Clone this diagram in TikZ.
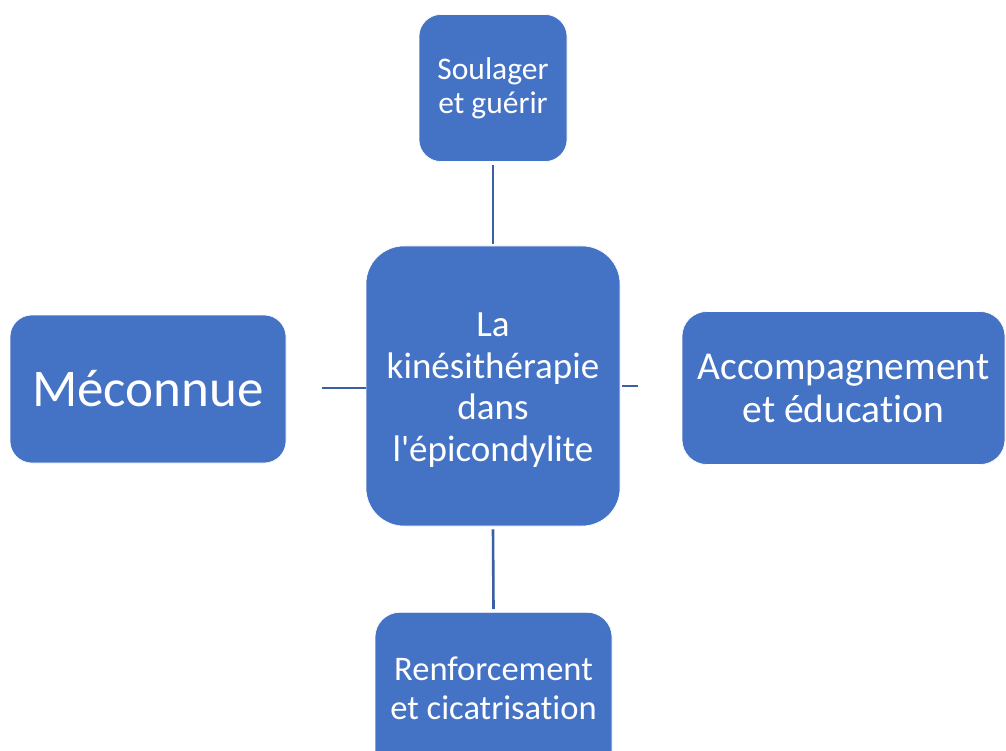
\documentclass[tikz,border=0pt]{standalone}
\usepackage{fontspec}
\newfontfamily\calfont[Ligatures=NoCommon]{Carlito}
\definecolor{boxblue}{HTML}{4472C4}
\definecolor{lineblue}{HTML}{3A5FA3}
\begin{document}
\begin{tikzpicture}[x=1pt,y=-1pt,
  box/.style={fill=boxblue, draw=white, line width=0.6pt, text=white, align=center, inner sep=0pt},
  conn/.style={draw=lineblue, line width=2.6pt}]
\useasboundingbox (0,0) rectangle (1006,751);
\clip (0,0) rectangle (1006,751);
\node[box, minimum width=148pt, minimum height=147pt, rounded corners=22pt, font=\calfont\fontsize{31.5}{34}\selectfont] (top) at (493,88) {Soulager\\et guérir};
\node[box, minimum width=254pt, minimum height=280pt, rounded corners=38pt] (mid) at (493,386) {};
\node[text=white, align=center, inner sep=0pt, font=\calfont\fontsize{37}{41.5}\selectfont] (midtxt) at (493,390) {La\\kinésithérapie\\dans\\l'épicondylite};
\node[box, minimum width=276pt, minimum height=148pt, rounded corners=22pt, font=\calfont\fontsize{53}{60}\selectfont] (left) at (148,389) {Méconnue};
\node[box, minimum width=323pt, minimum height=153pt, rounded corners=25pt, font=\calfont\fontsize{39.5}{43}\selectfont] (right) at (843.5,388) {Accompagnement\\et éducation};
\node[box, minimum width=237pt, minimum height=176pt, rounded corners=25pt, anchor=north] (bot) at (493.5,612) {};
\node[text=white, align=center, font=\calfont\fontsize{34.5}{39}\selectfont, inner sep=0pt] (bottxt) at (493.5,688) {Renforcement\\et cicatrisation};
\draw[conn] ([yshift=-3pt]top.south) -- ([yshift=2pt]mid.north);
\draw[conn] ([yshift=-3pt]mid.south) -- ([yshift=3pt]bot.north);
\draw[conn] ([xshift=-44pt,yshift=-2pt]mid.west) -- ([yshift=-2pt]mid.west);
\draw[conn] ([xshift=2pt]mid.east) -- ([xshift=18pt]mid.east);
\end{tikzpicture}
\end{document}
